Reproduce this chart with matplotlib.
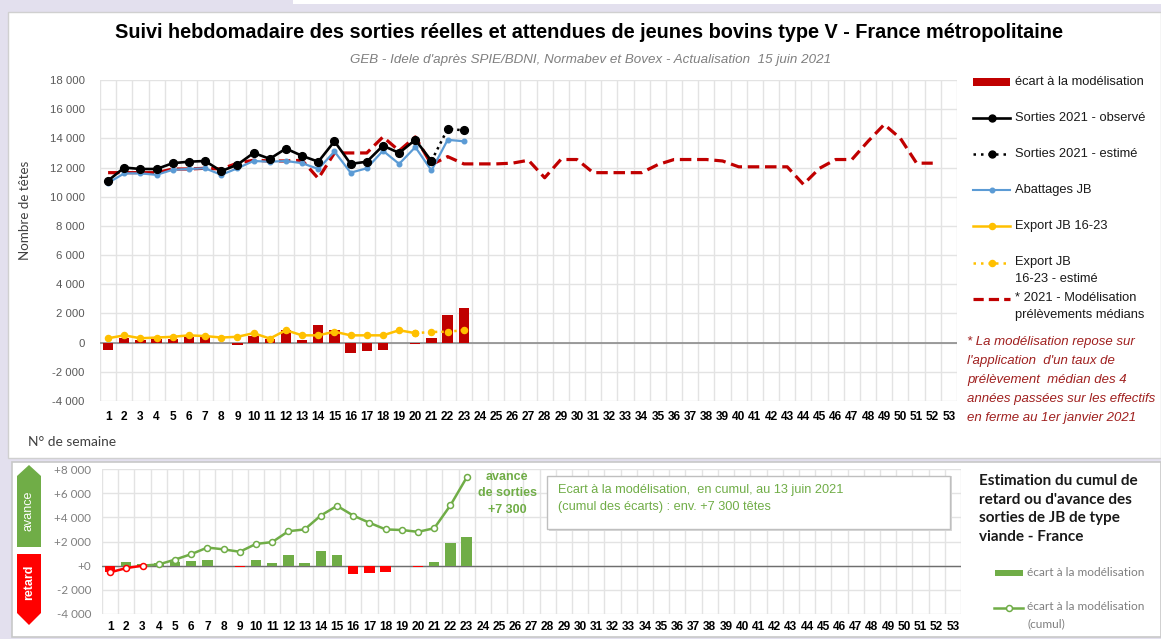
import numpy as np
import matplotlib
matplotlib.use('Agg')
import matplotlib.pyplot as plt
from matplotlib.lines import Line2D
from matplotlib.patches import Rectangle, Polygon

# ---- data ----
weeks = np.arange(1, 54)
week_labels = [str(w) for w in weeks]

obs_weeks = np.arange(1, 22)
sorties_obs = [11100, 12000, 11900, 11900, 12300, 12400, 12450, 11750, 12200, 13000,
               12600, 13300, 12800, 12400, 13800, 12250, 12400, 13500, 13000, 13900, 12450]
est_weeks = [21, 22, 23]
sorties_est = [12450, 14650, 14550]

abat_weeks = np.arange(1, 24)
abattages = [10950, 11600, 11600, 11500, 11850, 11900, 11950, 11500, 11950, 12450,
             12400, 12450, 12300, 11900, 13100, 11650, 11950, 13150, 12250, 13400,
             11800, 13900, 13800]

exp_weeks = np.arange(1, 21)
export_jb = [300, 500, 300, 350, 400, 500, 450, 350, 400, 650,
             280, 850, 500, 500, 750, 500, 500, 500, 850, 650]
exp_est_weeks = [20, 21, 22, 23]
export_est = [650, 730, 750, 850]

model_weeks = np.arange(1, 53)
modelisation = [11650, 11650, 11650, 11650, 11900, 11900, 11950, 11900, 12300, 12500,
                12450, 12450, 12500, 11250, 13000, 13000, 13000, 14100, 13150, 14100,
                12200, 12750, 12250, 12250, 12250, 12300, 12500, 11300, 12550, 12550,
                11650, 11650, 11650, 11650, 12200, 12550, 12550, 12550, 12450, 12050,
                12050, 12050, 12050, 10850, 11950, 12550, 12550, 13800, 14950, 14000,
                12300, 12300]

ecart_weeks = np.arange(1, 24)
ecart = [-520, 340, 170, 230, 270, 410, 450, -30, -140, 450,
         220, 860, 180, 1220, 900, -700, -580, -530, 0, -110,
         320, 1900, 2350]

cumul = [-550, -200, 0, 100, 500, 950, 1500, 1350, 1150, 1800,
         1950, 2850, 3000, 4150, 4950, 4150, 3550, 3000, 2950, 2800,
         3100, 5000, 7300]

top_yticks = [18000, 16000, 14000, 12000, 10000, 8000, 6000, 4000, 2000, 0, -2000, -4000]
bot_yticks = [8000, 6000, 4000, 2000, 0, -2000, -4000]

# ---- colours ----
DARKRED = '#c00000'
BLUE = '#5b9bd5'
YELLOW = '#ffc000'
GREEN = '#70ad47'
RED = '#ff0000'
GRID = '#e3e3e3'
DASH = (0, (3.6, 1.8))

W, H = 1161, 639
plt.rcParams['font.family'] = ['Liberation Sans', 'DejaVu Sans']
LATO = ['Lato', 'DejaVu Sans']
NARROW = ['Liberation Sans Narrow', 'Liberation Sans']


def fx(x):
    return x / W


def fy(y):
    return 1 - y / H


def fmt_space(v, plus=False):
    s = f'{abs(v):,}'.replace(',', ' ')
    if v < 0:
        return '-' + s
    return ('+' + s) if plus else s


fig = plt.figure(figsize=(W / 100, H / 100), dpi=100)
fig.patch.set_facecolor('#e3e0ee')

# white panels (behind the axes)
fig.add_artist(Rectangle((fx(8), fy(458)), fx(1161 - 8), fy(12) - fy(458),
                         transform=fig.transFigure, facecolor='white', edgecolor='#d0d0d0',
                         lw=1, zorder=-10))
fig.add_artist(Rectangle((fx(293), fy(4)), fx(1161 - 293), fy(0) - fy(4),
                         transform=fig.transFigure, facecolor='white', edgecolor='none', zorder=-10))
fig.add_artist(Rectangle((fx(12), fy(637)), fx(1161 - 12), fy(462) - fy(637),
                         transform=fig.transFigure, facecolor='white', edgecolor='#c8c8c8',
                         lw=1.2, zorder=-10))

# ---------------- top chart ----------------
ax = fig.add_axes([fx(100), fy(401), fx(857), fy(80) - fy(401)])
ax.set_xlim(0.5, 53.5)
ax.set_ylim(-4000, 18000)
for v in top_yticks:
    ax.axhline(v, color=GRID, lw=1, zorder=0)
for b in np.arange(0.5, 54, 1):
    ax.axvline(b, color=GRID, lw=1, zorder=0)
ax.axhline(0, color='#8c8c8c', lw=1.2, zorder=1)

ax.bar(ecart_weeks, ecart, width=0.64, color=DARKRED, zorder=2)
ax.plot(model_weeks, modelisation, color=DARKRED, lw=2.3, ls=DASH, zorder=3)
ax.plot(abat_weeks, abattages, color=BLUE, lw=1.6, marker='o', ms=3.3, zorder=4)
ax.plot(exp_weeks, export_jb, color=YELLOW, lw=1.8, marker='o', ms=4.4, zorder=4)
ax.plot(exp_est_weeks, export_est, color=YELLOW, lw=1.8, ls=(0, (1, 1.6)), marker='o', ms=4.4, zorder=4)
ax.plot(obs_weeks, sorties_obs, color='black', lw=1.9, marker='o', ms=5.6, zorder=5)
ax.plot(est_weeks, sorties_est, color='black', lw=1.8, ls=(0, (1, 1.6)), marker='o', ms=5.6, zorder=5)

ax.set_yticks(top_yticks)
ax.set_yticklabels([fmt_space(v) for v in top_yticks], color='#595959', fontsize=8.2)
ax.set_xticks(weeks)
ax.set_xticklabels(week_labels, fontsize=8.6, fontweight='bold', family=NARROW)
ax.tick_params(length=0)
ax.tick_params(axis='y', pad=11)
ax.tick_params(axis='x', pad=7)
for s in ax.spines.values():
    s.set_visible(False)

fig.text(fx(589), fy(33), 'Suivi hebdomadaire des sorties réelles et attendues de jeunes bovins type V - France métropolitaine',
         ha='center', va='center', fontsize=14.3, fontweight='bold', color='black')
fig.text(fx(591), fy(60), "GEB - Idele d'après SPIE/BDNI, Normabev et Bovex - Actualisation  15 juin 2021",
         ha='center', va='center', fontsize=9.6, style='italic', color='#7f7f7f')
fig.text(fx(25), fy(210), 'Nombre de têtes', rotation=90, ha='center', va='center',
         fontsize=9.6, color='#404040', family=LATO)
fig.text(fx(28), fy(442), 'N° de semaine', ha='left', va='center',
         fontsize=9.9, color='#404040', family=LATO)

# legend (top)
LX0, LX1, TX = 973, 1010, 1015


def leg_line(y, color, ls='-', lw=2, marker='o', ms=5):
    fig.add_artist(Line2D([fx(LX0), fx(LX1)], [fy(y), fy(y)], transform=fig.transFigure,
                          color=color, ls=ls, lw=lw))
    if marker:
        fig.add_artist(Line2D([fx((LX0 + LX1) / 2)], [fy(y)], transform=fig.transFigure,
                              color=color, marker=marker, ms=ms, ls='none'))


fig.add_artist(Rectangle((fx(973), fy(86)), fx(37), fy(78) - fy(86), transform=fig.transFigure,
                         facecolor=DARKRED, edgecolor='none'))
leg_line(118, 'black', lw=1.9, ms=5)
leg_line(154, 'black', ls=(0, (1, 2)), lw=1.8, ms=5)
leg_line(190, BLUE, lw=1.5, ms=3.3)
leg_line(226, YELLOW, lw=1.8, ms=4.4)
leg_line(263, YELLOW, ls=(0, (1, 2)), lw=1.8, ms=4.4)
leg_line(299, DARKRED, ls=(0, (3.2, 1.6)), lw=2.3, marker=None)

leg_txt = [(82, 'écart à la modélisation'), (118, 'Sorties 2021 - observé'),
           (154, 'Sorties 2021 - estimé'), (190, 'Abattages JB'), (226, 'Export JB 16-23'),
           (262, 'Export JB'), (279, '16-23 - estimé'),
           (298, '* 2021 - Modélisation'), (315, 'prélèvements médians')]
for y, t in leg_txt:
    fig.text(fx(TX), fy(y), t, ha='left', va='center', fontsize=9.3, color='#1a1a1a')

note = ['* La modélisation repose sur', "l'application  d'un taux de",
        'prélèvement  médian des 4', 'années passées sur les effectifs',
        'en ferme au 1er janvier 2021']
for i, t in enumerate(note):
    fig.text(fx(967), fy(342 + 19 * i), t, ha='left', va='center', fontsize=9.5,
             style='italic', color='#a0201f')

# ---------------- bottom chart ----------------
bx = fig.add_axes([fx(102), fy(614), fx(859), fy(469) - fy(614)])
bx.set_xlim(0.5, 53.5)
bx.set_ylim(-4000, 8000)
for v in bot_yticks:
    bx.axhline(v, color=GRID, lw=1, zorder=0)
for b in np.arange(0.5, 54, 1):
    bx.axvline(b, color=GRID, lw=1, zorder=0)
bx.axhline(0, color='#6e6e6e', lw=1, zorder=1)

bar_cols = [GREEN if v >= 0 else RED for v in ecart]
bx.bar(ecart_weeks, ecart, width=0.64, color=bar_cols, zorder=2)
bx.plot(ecart_weeks[2:], cumul[2:], color=GREEN, lw=1.8, marker='o', ms=4.3,
        mfc='white', mec=GREEN, mew=1.1, markevery=list(range(1, 21)), zorder=3)
bx.plot(ecart_weeks[:3], cumul[:3], color=RED, lw=1.8, marker='o', ms=4.3,
        mfc='white', mec=RED, mew=1.1, zorder=4)

bx.set_yticks(bot_yticks)
bx.set_yticklabels([fmt_space(v, plus=v >= 0) for v in bot_yticks], color='#7f7f7f',
                   fontsize=8.4, family=LATO)
bx.set_xticks(weeks)
bx.set_xticklabels(week_labels, fontsize=8.6, fontweight='bold', family=NARROW)
bx.tick_params(length=0)
bx.tick_params(axis='y', pad=8)
bx.tick_params(axis='x', pad=5)
for s in bx.spines.values():
    s.set_visible(False)

bx.text(25.5, 6000, 'avance\nde sorties\n+7 300', ha='center', va='center', color=GREEN,
        fontsize=9, fontweight='bold', linespacing=1.5)

# info box
fig.add_artist(Rectangle((fx(549), fy(531)), fx(403), fy(476) - fy(531), transform=fig.transFigure,
                         facecolor='#d9d9d9', edgecolor='none'))
fig.add_artist(Rectangle((fx(547), fy(529)), fx(403), fy(476) - fy(529), transform=fig.transFigure,
                         facecolor='white', edgecolor='#bfbfbf', lw=1))
fig.text(fx(558), fy(490), 'Ecart à la modélisation,  en cumul, au 13 juin 2021',
         ha='left', va='center', fontsize=9.2, color=GREEN)
fig.text(fx(558), fy(507), '(cumul des écarts) : env. +7 300 têtes',
         ha='left', va='center', fontsize=9.2, color=GREEN)

# avance / retard arrows
fig.add_artist(Polygon([[fx(17), fy(547)], [fx(17), fy(476)], [fx(29), fy(465)],
                        [fx(41), fy(476)], [fx(41), fy(547)]], closed=True,
                       transform=fig.transFigure, facecolor=GREEN, edgecolor='none'))
fig.add_artist(Polygon([[fx(17), fy(554)], [fx(41), fy(554)], [fx(41), fy(613)],
                        [fx(29), fy(625)], [fx(17), fy(613)]], closed=True,
                       transform=fig.transFigure, facecolor=RED, edgecolor='none'))
fig.text(fx(29), fy(511), 'avance', rotation=90, ha='center', va='center', color='white',
         fontsize=9)
fig.text(fx(29), fy(582), 'retard', rotation=90, ha='center', va='center', color='white',
         fontsize=9, fontweight='bold')

# bottom-right title and legend
fig.text(fx(979), fy(509), 'Estimation du cumul de\nretard ou d\'avance des\nsorties de JB de type\nviande - France',
         ha='left', va='center', fontsize=11, fontweight='bold', color='#1a1a1a',
         linespacing=1.42, family=LATO)
fig.add_artist(Rectangle((fx(995), fy(576)), fx(28), fy(570) - fy(576), transform=fig.transFigure,
                         facecolor=GREEN, edgecolor='none'))
fig.text(fx(1027), fy(573), 'écart à la modélisation', ha='left', va='center', fontsize=8.6,
         color='#7f7f7f', family=LATO)
fig.add_artist(Line2D([fx(994), fx(1023)], [fy(608), fy(608)], transform=fig.transFigure,
                      color=GREEN, lw=1.8))
fig.add_artist(Line2D([fx(1009)], [fy(608)], transform=fig.transFigure, color=GREEN, marker='o',
                      ms=4.3, mfc='white', mec=GREEN, mew=1.1, ls='none'))
fig.text(fx(1027), fy(607), 'écart à la modélisation', ha='left', va='center', fontsize=8.6,
         color='#7f7f7f', family=LATO)
fig.text(fx(1027), fy(624), '(cumul)', ha='left', va='center', fontsize=8.6,
         color='#7f7f7f', family=LATO)

fig.savefig('out.png', dpi=100, facecolor=fig.get_facecolor())
